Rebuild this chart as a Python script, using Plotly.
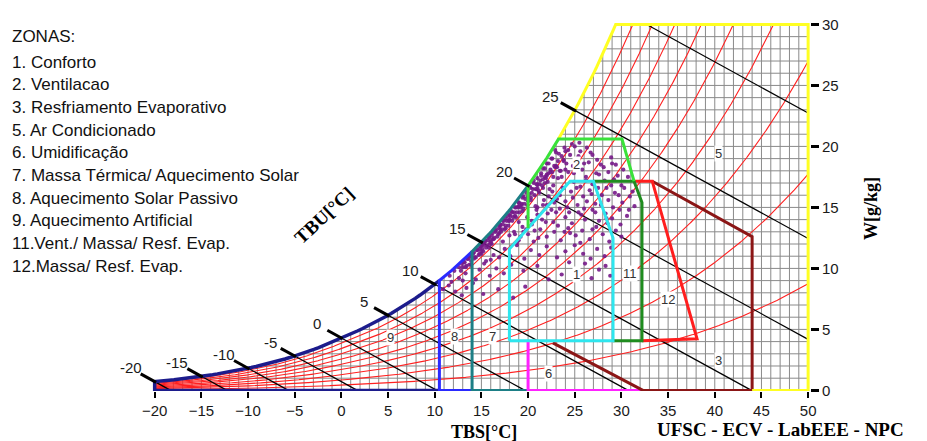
import numpy as np
import plotly.graph_objects as go

# ---------------- values ----------------
P_KPA = 89.0            # station pressure implied by the drawn saturation curve
WB_SLOPE = 0.42         # g/kg per degC, slope of the drawn wet-bulb lines

tbs_ticks = [-20, -15, -10, -5, 0, 5, 10, 15, 20, 25, 30, 35, 40, 45, 50]
w_ticks = [0, 5, 10, 15, 20, 25, 30]
rh_levels = [0.1, 0.2, 0.3, 0.4, 0.5, 0.6, 0.7, 0.8, 0.9]
wb_levels = [-20, -15, -10, -5, 0, 5, 10, 15, 20, 25, 30]
wb_labelled = [-20, -15, -10, -5, 0, 5, 10, 15, 20, 25]

legend_title = "ZONAS:"
legend_items = ["1. Conforto", "2. Ventilacao", "3. Resfriamento Evaporativo",
                "5. Ar Condicionado", "6. Umidificação",
                "7. Massa Térmica/ Aquecimento Solar", "8. Aquecimento Solar Passivo",
                "9. Aquecimento Artificial", "11.Vent./ Massa/ Resf. Evap.",
                "12.Massa/ Resf. Evap."]

# zone outlines (TBS degC, W g/kg)
zone1_T = [18.0, 29.1, 29.1, 27.0, 24.5, 18.0, 18.0]
zone1_W = [4.07, 4.07, 12.5, 17.15, 17.15, 11.6, 4.07]
zone2_start = (20.0, 13.3)
zone2_top_W = 20.6
zone2_T = [30.06, 31.35]
zone2_W = [20.6, 17.15]
zone11_T = [26.95, 31.35, 32.2, 32.2, 29.1]
zone11_W = [17.15, 17.15, 15.4, 4.07, 4.07]
zone12_T = [32.2, 38.1, 33.3, 31.35]
zone12_W = [4.07, 4.23, 17.15, 17.15]
zone3_T = [33.3, 44.0, 44.0, 32.3, 22.65]
zone3_W = [17.15, 12.6, 0.0, 0.0, 3.9]
zone6_T = [20.0, 20.0, 32.3]
zone6_W = [4.07, 0.0, 0.0]
zone5_T = [50.0, 50.0, 44.0]
zone5_W = [30.0, 0.0, 0.0]
zone7_bounds = (14.0, 20.0)
zone8_bounds = (10.5, 14.0)
zone9_bounds = (-20.0, 10.5)

zone_label_text = ["1", "2", "3", "5", "6", "7", "8", "9", "11", "12"]
zone_label_T = [25.2, 25.2, 40.35, 40.35, 22.2, 16.2, 12.15, 5.3, 30.9, 35.0]
zone_label_W = [9.5, 18.5, 2.45, 19.4, 1.4, 4.4, 4.4, 4.3, 9.55, 7.45]

# climate-data points (hourly records), estimated from the dot cloud
cloud_T = [
    10.9, 11.5, 12.2, 11.8, 12.9, 13.4, 14.1, 15.2, 16.8, 18.4, 19.7, 13.0,
    11.6, 12.1, 12.6, 13.0, 13.3, 13.9, 14.4, 14.8, 15.3, 15.9, 16.6, 17.4, 18.2, 19.5, 21.0, 23.6, 25.3, 26.1, 26.8, 27.6, 28.3, 28.8, 24.4, 22.2,
    13.1, 13.5, 13.9, 14.2, 14.8, 15.0, 15.5, 15.8, 16.3, 16.9, 17.5, 18.1, 18.8, 19.6, 20.3, 21.2, 22.0, 23.1, 24.0, 25.0, 25.9, 26.7, 27.4, 28.2, 28.9, 14.0, 15.2, 16.0,
    15.1, 15.4, 15.8, 16.2, 16.5, 16.9, 17.3, 17.6, 18.0, 18.5, 19.0, 19.4, 20.0, 20.6, 21.3, 22.0, 22.8, 23.5, 24.3, 25.1, 25.8, 26.6, 27.3, 28.0, 28.7, 29.4, 30.0, 16.1, 17.0, 18.8,
    17.0, 17.3, 17.6, 17.9, 18.3, 18.6, 19.0, 19.4, 19.9, 20.4, 20.9, 21.5, 22.1, 22.7, 23.4, 24.0, 24.7, 25.4, 26.1, 26.9, 27.6, 28.3, 29.0, 29.8, 30.6, 18.0, 21.0, 23.0,
    18.7, 19.0, 19.5, 19.3, 19.9, 20.3, 20.8, 21.2, 21.7, 22.3, 22.8, 23.4, 24.0, 24.6, 25.3, 25.9, 26.6, 27.2, 27.9, 28.6, 29.3, 30.1, 30.9, 31.4, 20.0, 22.0,
    20.2, 20.6, 21.0, 21.4, 21.8, 22.2, 22.7, 23.2, 23.8, 24.3, 24.9, 25.6, 26.2, 26.9, 27.6, 28.4, 29.2, 30.0, 30.7, 21.6, 23.5,
    21.6, 22.0, 22.5, 22.9, 23.3, 23.8, 24.3, 24.8, 25.4, 26.0, 26.7, 27.4, 28.1, 28.9, 29.4, 25.0, 26.3, 24.0,
    13.1, 13.4, 13.6, 13.9, 14.1, 14.3, 14.5, 14.7, 14.9, 15.1, 15.3, 15.5, 15.7, 15.9, 16.1, 16.3, 16.5, 16.7, 16.9, 17.1,
    17.3, 17.5, 17.7, 17.9, 18.1, 18.3, 18.5, 18.7, 18.9, 19.1, 19.3, 19.5, 19.7, 19.9, 20.1, 20.3, 20.5, 20.7, 20.9, 21.1,
    21.3, 21.5, 21.8, 22.1, 22.4, 22.7, 23.0, 23.4, 23.8, 14.0, 15.0, 16.0, 17.0, 18.0, 19.0, 20.0, 21.0, 22.0,
    12.6, 12.9, 13.2, 13.5, 13.8, 14.2, 14.6, 15.0, 15.4, 15.8, 16.2, 16.6, 17.0, 17.4,
    17.8, 18.2, 18.6, 19.0, 19.4, 19.8, 20.2, 20.6, 21.0, 21.4, 21.8, 22.2, 22.6, 23.0,
    12.8, 13.3, 13.7, 14.4, 14.8, 15.2, 15.6, 16.0, 16.4, 16.8, 17.2, 17.6, 18.0, 18.4,
    18.8, 19.2, 19.6, 20.0, 20.4, 20.8, 21.2, 21.6, 22.0, 22.4, 22.8, 23.2, 23.6, 24.0,
    21.9, 22.6, 23.1, 23.6, 24.1, 24.5, 24.9, 25.2, 25.6, 25.8, 26.2, 26.5,
    26.9, 27.3, 27.8, 28.2, 28.6, 29.0, 29.6, 30.2, 24.7, 23.9, 25.5, 22.9,
    19.2, 19.8, 20.4, 21.0, 21.6, 22.2, 22.6, 23.1, 23.7, 24.2, 24.8, 25.2, 25.7, 26.3,
    26.8, 27.2, 27.8, 28.4, 29.1, 29.7, 30.3, 30.8, 31.2, 19.5, 20.7, 21.9, 23.2,
    24.5, 25.6, 26.9, 28.5, 29.9, 18.6, 21.1, 22.5, 24.4, 26.0, 27.5, 28.9, 23.9,
]
cloud_W = [
    8.3, 8.6, 8.1, 8.9, 7.8, 8.4, 8.8, 7.9, 8.3, 7.6, 8.5, 9.0,
    9.4, 9.8, 9.2, 10.1, 9.6, 10.3, 9.1, 9.9, 10.4, 9.4, 10.0, 9.6, 10.3, 9.8, 10.2, 9.5, 9.7, 10.4, 9.2, 9.9, 10.2, 9.4, 10.5, 9.1,
    10.6, 10.8, 11.0, 10.8, 11.6, 11.2, 10.6, 11.7, 11.1, 10.9, 11.6, 11.0, 11.9, 10.8, 11.5, 11.1, 11.8, 10.9, 11.4, 11.9, 11.2, 10.8, 11.6, 11.0, 11.7, 11.3, 11.9, 10.7,
    12.0, 12.3, 12.5, 12.4, 13.1, 12.9, 12.2, 13.3, 12.7, 13.0, 12.3, 13.4, 12.8, 12.2, 13.2, 12.6, 13.0, 12.3, 13.3, 12.7, 13.1, 12.4, 13.4, 12.8, 12.2, 13.1, 12.6, 12.0, 13.5, 12.1,
    13.6, 13.9, 14.1, 13.9, 14.6, 14.3, 13.8, 14.7, 14.2, 13.6, 14.8, 14.0, 14.5, 13.8, 14.9, 14.2, 13.7, 14.6, 14.0, 14.8, 13.9, 14.5, 14.1, 14.8, 14.3, 14.4, 15.0, 14.6,
    15.0, 15.4, 15.9, 15.2, 16.4, 15.8, 15.1, 16.2, 15.6, 16.5, 15.4, 16.0, 15.5, 16.3, 15.2, 15.9, 16.4, 15.3, 16.0, 15.6, 16.2, 15.4, 15.9, 15.1, 15.5, 15.2,
    16.7, 17.2, 16.9, 17.6, 17.0, 17.8, 16.8, 17.4, 16.6, 17.9, 17.1, 16.7, 17.5, 16.9, 17.7, 16.6, 17.3, 16.8, 17.5, 16.6, 18.0,
    18.2, 18.6, 19.0, 18.3, 19.4, 18.8, 19.7, 18.4, 19.2, 18.6, 19.5, 18.9, 18.3, 19.1, 18.5, 20.0, 19.9, 18.1,
    10.5, 10.2, 10.8, 10.6, 11.2, 10.9, 11.5, 11.1, 11.8, 11.6, 12.1, 11.7, 12.3, 12.0, 12.7, 12.4, 13.0, 12.6, 13.4, 13.0,
    13.6, 13.2, 13.9, 13.5, 14.3, 13.9, 14.6, 14.2, 15.0, 14.6, 15.3, 14.9, 15.7, 15.2, 16.1, 15.6, 16.5, 16.0, 16.9, 16.4,
    17.2, 16.8, 17.5, 17.1, 17.9, 17.5, 18.4, 18.0, 18.9, 10.9, 11.4, 12.2, 13.2, 14.0, 15.1, 15.9, 16.6, 17.7,
    10.1, 10.4, 10.5, 10.8, 11.0, 11.3, 11.5, 11.9, 12.2, 12.6, 12.9, 13.2, 13.6, 13.9,
    14.3, 14.7, 15.0, 15.4, 15.8, 16.2, 16.6, 17.0, 17.4, 17.8, 18.2, 18.6, 19.0, 19.5,
    9.8, 10.1, 10.3, 10.9, 11.2, 11.4, 11.9, 12.1, 12.5, 12.8, 13.2, 13.5, 13.9, 14.2,
    14.6, 15.0, 15.3, 15.8, 16.2, 16.5, 16.9, 17.3, 17.6, 18.1, 18.4, 18.8, 19.2, 19.6,
    17.4, 17.9, 18.3, 17.5, 18.6, 19.3, 17.8, 18.9, 19.6, 18.1, 17.2, 18.7,
    19.3, 17.8, 18.5, 17.2, 17.9, 18.6, 17.6, 18.1, 20.2, 19.9, 20.3, 19.7,
    12.6, 13.2, 13.9, 14.4, 15.2, 15.9, 16.3, 15.7, 16.6, 15.0, 15.8, 16.6, 14.4, 15.5,
    16.1, 14.6, 15.2, 14.1, 15.0, 16.0, 16.6, 14.8, 16.3, 13.0, 13.1, 13.8, 13.5,
    12.9, 12.1, 13.2, 13.7, 13.6, 12.8, 12.5, 14.8, 14.6, 14.9, 16.6, 16.8, 13.0,
]

# ---------------- psychrometric frame ----------------
def psat(T):
    T = np.asarray(T, dtype=float)
    water = 0.61078 * np.exp(17.27 * T / (T + 237.3))
    ice = 0.61078 * np.exp(21.875 * T / (T + 265.5))
    return np.where(T >= 0, water, ice)


def w_of(T, rh=1.0):
    pv = rh * psat(T)
    return 622.0 * pv / (P_KPA - pv)


T_FINE = np.linspace(-20, 50, 1401)
W_FINE = w_of(T_FINE)


def tsat(W):
    return float(np.interp(W, W_FINE, T_FINE))


def sat_seg(t0, t1, n=60):
    T = np.linspace(t0, t1, n)
    return list(T), list(w_of(T))


T_SAT30 = tsat(30.0)

fig = go.Figure()

# grid under the saturation curve (1 degC x 1 g/kg)
gx, gy = [], []
for t in range(-20, 51):
    top = min(float(w_of(t)), 30.0)
    gx += [t, t, None]
    gy += [0, top, None]
for w in range(0, 31):
    gx += [max(tsat(w), -20.0), 50, None]
    gy += [w, w, None]
fig.add_trace(go.Scatter(x=gx, y=gy, mode="lines",
                         line=dict(color="#8a8a8a", width=1), hoverinfo="skip"))

# relative humidity curves
rx, ry = [], []
for rh in rh_levels:
    W = w_of(T_FINE, rh)
    T = T_FINE
    if np.any(W > 30):
        i = int(np.argmax(W > 30))
        tc = np.interp(30, [W[i - 1], W[i]], [T[i - 1], T[i]])
        T = np.append(T[:i], tc)
        W = np.append(W[:i], 30)
    rx += list(T) + [None]
    ry += list(W) + [None]
fig.add_trace(go.Scatter(x=rx, y=ry, mode="lines",
                         line=dict(color="#ff2020", width=1.1), hoverinfo="skip"))

# wet-bulb lines
bx, by = [], []
for twb in wb_levels:
    ws = float(w_of(twb))
    t0, w0 = float(twb), ws
    if w0 > 30:
        t0 = twb + (w0 - 30) / WB_SLOPE
        w0 = 30.0
    t1 = twb + ws / WB_SLOPE
    w1 = 0.0
    if t1 > 50:
        t1 = 50.0
        w1 = ws - WB_SLOPE * (50 - twb)
    bx += [t0, t1, None]
    by += [w0, w1, None]
fig.add_trace(go.Scatter(x=bx, y=by, mode="lines",
                         line=dict(color="black", width=1.2), hoverinfo="skip"))

# climate data cloud
n = min(len(cloud_T), len(cloud_W))
fig.add_trace(go.Scatter(x=cloud_T[:n], y=cloud_W[:n], mode="markers",
                         marker=dict(color="#761a88", size=4.2, opacity=0.9),
                         hoverinfo="skip"))


def add_line(xs, ys, color, width=3):
    fig.add_trace(go.Scatter(x=xs, y=ys, mode="lines",
                             line=dict(color=color, width=width), hoverinfo="skip"))


# zone 9 (navy)
sx, sy = sat_seg(zone9_bounds[1], zone9_bounds[0])
add_line(sx + [zone9_bounds[0], zone9_bounds[1]], sy + [0, 0], "#1c1c8c", 3.5)
# zone 8 (blue)
sx, sy = sat_seg(zone8_bounds[1], zone8_bounds[0], 20)
add_line(sx + [zone8_bounds[0], zone8_bounds[1]], sy + [0, 0], "#2a2aff", 3)
# zone 7 (teal)
sx, sy = sat_seg(zone7_bounds[1], zone7_bounds[0], 30)
add_line(sx + [zone7_bounds[0], zone7_bounds[1]], sy + [0, 0], "#1d7f86", 3)
# zone 6 (magenta)
add_line(zone6_T, zone6_W, "#ff22ff", 3)
# zone 3 (dark red)
add_line(zone3_T, zone3_W, "#8b1616", 3)
# zone 5 (yellow)
t_top = tsat(zone2_top_W)
sx, sy = sat_seg(t_top, T_SAT30, 30)
add_line(sx + zone5_T, sy + zone5_W, "#ffff22", 3)
# zone 12 (red)
add_line(zone12_T, zone12_W, "#ff1e1e", 3)
# zone 11 (dark green)
add_line(zone11_T, zone11_W, "#1f8c1f", 3)
# zone 1 (cyan)
add_line(zone1_T, zone1_W, "#2ee6ee", 3)
# zone 2 (green)
sx, sy = sat_seg(zone2_start[0], t_top, 30)
add_line([zone2_start[0]] + sx + zone2_T, [zone2_start[1]] + sy + zone2_W, "#3ae23a", 3)

# wet-bulb ticks on the saturation curve
kx, ky = [], []
for twb in wb_labelled:
    ws = float(w_of(twb))
    kx += [twb - 1.5, twb + 0.15, None]
    ky += [ws + WB_SLOPE * 1.5, ws - WB_SLOPE * 0.15, None]
fig.add_trace(go.Scatter(x=kx, y=ky, mode="lines",
                         line=dict(color="black", width=3), hoverinfo="skip"))

annotations = []
SANS = "Liberation Sans, Arial, sans-serif"
SERIF = "Liberation Serif, Times New Roman, serif"

for twb in wb_labelled:
    annotations.append(dict(x=twb, y=float(w_of(twb)), xref="x", yref="y",
                            text=str(twb), showarrow=False, xshift=-24, yshift=14,
                            xanchor="center", yanchor="middle",
                            font=dict(family=SANS, size=15, color="#1a1a1a")))

for txt, t, w in zip(zone_label_text, zone_label_T, zone_label_W):
    annotations.append(dict(x=t, y=w, xref="x", yref="y", text=txt, showarrow=False,
                            bgcolor="white", borderpad=0, xanchor="center", yanchor="middle",
                            font=dict(family=SANS, size=13, color="#333333")))

# page-pixel helpers (plot area spans page x 136..810, y 16..391)
def pxx(xp):
    return (xp - 136) / 674.0


def pxy(yp):
    return (391 - yp) / 375.0


annotations.append(dict(x=pxx(10), y=pxy(31), xref="paper", yref="paper",
                        text=legend_title, showarrow=False, xanchor="left", yanchor="middle",
                        font=dict(family=SANS, size=17, color="#111111")))
for i, item in enumerate(legend_items):
    annotations.append(dict(x=pxx(10), y=pxy(57 + 23 * i), xref="paper", yref="paper",
                            text=item, showarrow=False, xanchor="left", yanchor="middle",
                            font=dict(family=SANS, size=17, color="#111111")))

annotations.append(dict(x=pxx(484), y=pxy(433), xref="paper", yref="paper",
                        text="<b>TBS[°C]</b>", showarrow=False,
                        xanchor="center", yanchor="middle",
                        font=dict(family=SERIF, size=18, color="black")))
annotations.append(dict(x=pxx(871), y=pxy(206), xref="paper", yref="paper",
                        text="<b>W[g/kg]</b>", showarrow=False, textangle=-90,
                        xanchor="center", yanchor="middle",
                        font=dict(family=SERIF, size=18, color="black")))
annotations.append(dict(x=pxx(324), y=pxy(213), xref="paper", yref="paper",
                        text="<b>TBU[°C]</b>", showarrow=False, textangle=-43,
                        xanchor="center", yanchor="middle",
                        font=dict(family=SERIF, size=19, color="black")))
annotations.append(dict(x=pxx(780), y=pxy(430), xref="paper", yref="paper",
                        text="<b>UFSC - ECV - LabEEE - NPC</b>", showarrow=False,
                        xanchor="center", yanchor="middle", borderpad=0,
                        font=dict(family=SERIF, size=19, color="black")))

# the page body adds an 8 px offset, so the figure is 8 px smaller and margins shifted
fig.update_layout(
    width=919, height=433,
    margin=dict(l=128, r=117, t=8, b=50, pad=0),
    paper_bgcolor="white", plot_bgcolor="white",
    showlegend=False,
    annotations=annotations,
    xaxis=dict(range=[-22, 50.2], tickvals=tbs_ticks, ticks="outside", ticklen=6,
               tickwidth=2, tickcolor="black", showgrid=False, zeroline=False,
               showline=False, tickfont=dict(family=SANS, size=15, color="#1a1a1a")),
    yaxis=dict(range=[-0.05, 30.2], tickvals=w_ticks, side="right", ticks="outside",
               ticklen=8, tickwidth=3, tickcolor="black", showgrid=False, zeroline=False,
               showline=False, tickfont=dict(family=SANS, size=15, color="#1a1a1a")),
)

fig.write_html("out.html")
